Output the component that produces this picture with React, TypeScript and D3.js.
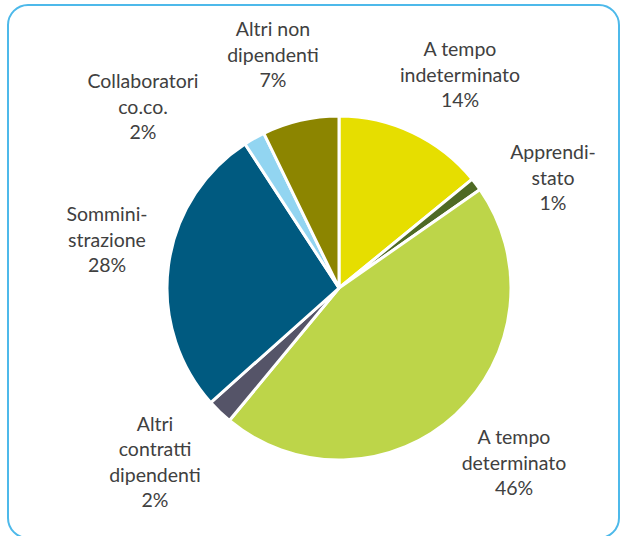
import React from "react";
import * as d3 from "d3";

const categories = [
  "A tempo indeterminato",
  "Apprendistato",
  "A tempo determinato",
  "Altri contratti dipendenti",
  "Somministrazione",
  "Collaboratori co.co.",
  "Altri non dipendenti",
];
const values = [14.1, 1.2, 45.7, 2.4, 27.4, 2.0, 7.2];
const labelLines = [
  ["A tempo", "indeterminato", "14%"],
  ["Apprendi-", "stato", "1%"],
  ["A tempo", "determinato", "46%"],
  ["Altri", "contratti", "dipendenti", "2%"],
  ["Sommini-", "strazione", "28%"],
  ["Collaboratori", "co.co.", "2%"],
  ["Altri non", "dipendenti", "7%"],
];
const colors = ["#E6DE00", "#4E6A24", "#BDD549", "#555468", "#005A80", "#92D5F1", "#8C8500"];
// label centre offsets from pie centre (layout)
const labelOffsets: [number, number][] = [
  [121, -213],
  [214, -110],
  [175, 175],
  [-184, 174],
  [-232, -48],
  [-196, -181],
  [-66, -233],
];

export default function App() {
  const W = 622, H = 536;
  const cx = 339, cy = 288, r = 172;
  const pie = d3.pie<number>().sort(null).startAngle(0).endAngle(2 * Math.PI);
  const arcs = pie(values);
  const arc = d3.arc<d3.PieArcDatum<number>>().innerRadius(0).outerRadius(r);
  const lh = 25.5;
  return (
    <svg width={W} height={H} style={{ position: "absolute", left: 0, top: 0 }}>
      <rect x={0} y={0} width={W} height={H} fill="#fff" />
      <rect x={8} y={5} width={611} height={533} rx={20} ry={20} fill="none" stroke="#4DB9EA" strokeWidth={2} />
      <g transform={`translate(${cx},${cy})`}>
        {arcs.map((a, i) => (
          <path key={categories[i]} d={arc(a) || ""} fill={colors[i]} stroke="#fff" strokeWidth={3} strokeLinejoin="miter" />
        ))}
        {arcs.map((a, i) => {
          const [dx, dy] = labelOffsets[i];
          const lines = labelLines[i];
          const y0 = dy - ((lines.length - 1) * lh) / 2;
          return (
            <text key={"l" + i} textAnchor="middle" fontFamily="Lato, 'Open Sans', sans-serif" fontSize={19.5} fill="#404040">
              {lines.map((t, j) => (
                <tspan key={j} x={dx} y={y0 + j * lh} dy="0.35em">{t}</tspan>
              ))}
            </text>
          );
        })}
      </g>
    </svg>
  );
}
